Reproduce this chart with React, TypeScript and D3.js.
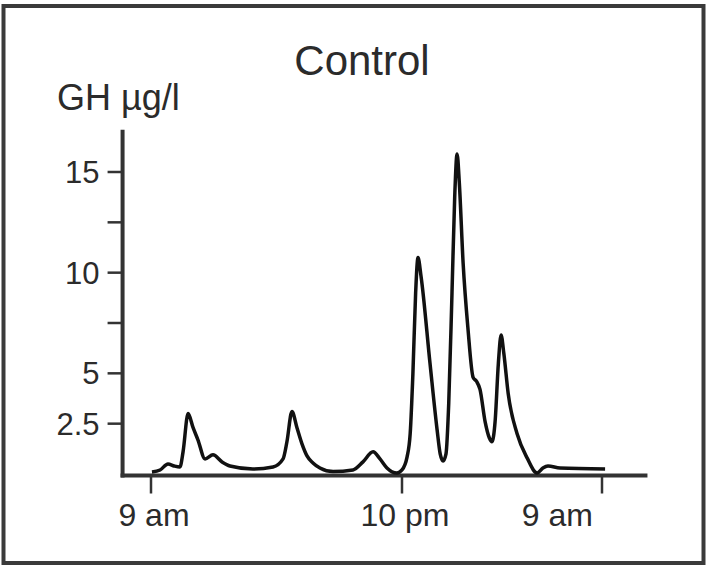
import React from "react";
import * as d3 from "d3";

// Time in hours since midnight of day 1 (9 am = 9, 10 pm = 22, next 9 am = 33)
const hours = [
  9.05, 9.47, 9.88, 10.2, 10.5, 10.66, 10.92, 11.18, 11.43, 11.8, 12.21, 12.68, 13.09,
  14.28, 15.32, 15.84, 16.04, 16.3, 16.56, 16.82, 17.08, 17.39, 17.75, 18.43, 19.46,
  19.98, 20.5, 20.86, 21.22, 21.74, 22.0, 22.28, 22.45, 22.6, 22.75, 22.88, 23.05,
  23.54, 23.93, 24.1, 24.26, 24.42, 24.57, 24.75, 24.9, 25.03, 25.15, 25.36, 25.63,
  25.91, 26.1, 26.29, 26.57, 26.8, 26.95, 27.12, 27.3, 27.45, 27.6, 27.84, 28.33,
  28.88, 29.43, 29.75, 30.03, 30.69, 33.17,
];
const ghValues = [
  0.1, 0.2, 0.5, 0.4, 0.35, 1.1, 3.0, 2.3, 1.7, 0.75, 0.95, 0.6, 0.4,
  0.25, 0.35, 0.75, 1.6, 3.1, 2.3, 1.5, 0.9, 0.55, 0.3, 0.12, 0.2,
  0.6, 1.1, 0.75, 0.3, 0.05, 0.2, 0.85, 2.0, 5.0, 9.0, 10.75, 9.8,
  5.5, 2.2, 1.0, 0.65, 1.0, 3.5, 9.0, 13.8, 15.9, 14.5, 10.5, 7.2,
  4.8, 4.6, 4.2, 2.6, 1.8, 1.6, 2.6, 5.5, 6.9, 6.0, 4.0, 2.0,
  0.8, 0.05, 0.3, 0.4, 0.3, 0.25,
];

const xTickHours = [9, 22, 33];
const xTickLabels = ["9 am", "10 pm", "9 am"];
const yMajorTicks = [15, 10, 5, 2.5];
const yMajorLabels = ["15", "10", "5", "2.5"];
const yMinorTicks = [12.5, 7.5];

const title = "Control";
const yTitle = "GH µg/l";

const W = 707;
const H = 566;
const FONT = "'Liberation Sans', Arial, Helvetica, sans-serif";
const TEXT = "#2b2b2b";
const AXIS = "#333";

export default function App() {
  const x = d3.scaleLinear().domain(xTickHours).range([151, 402, 602]);
  const y = d3.scaleLinear().domain([0, 15]).range([474, 172]);

  const xAxisStart = 7.45;
  const xAxisEnd = 35.5;
  const yAxisTop = 17.1;

  const data = hours.map((h, i) => [h, ghValues[i]] as [number, number]);
  const line = d3
    .line<[number, number]>()
    .x((d) => x(d[0]))
    .y((d) => y(d[1]))
    .curve(d3.curveMonotoneX);

  const axisY = 475.5;
  const axisX = x(xAxisStart) + 1.5;

  return (
    <svg
      width={W}
      height={H}
      style={{ position: "absolute", left: 0, top: 0, background: "#fff" }}
    >
      <rect x={3.5} y={6} width={700} height={557} fill="#fff" stroke="#3a3a3a" strokeWidth={4} />
      <text x={362} y={75} textAnchor="middle" fontFamily={FONT} fontSize={42} fill={TEXT}>
        {title}
      </text>
      <text x={57} y={110} fontFamily={FONT} fontSize={36} fill={TEXT}>
        {yTitle}
      </text>

      {/* y axis */}
      <line x1={axisX} x2={axisX} y1={y(yAxisTop)} y2={axisY + 2} stroke={AXIS} strokeWidth={4} />
      {yMajorTicks.map((t, i) => (
        <g key={"ym" + i}>
          <line x1={axisX - 15} x2={axisX} y1={y(t)} y2={y(t)} stroke={AXIS} strokeWidth={2.5} />
          <text
            x={axisX - 23}
            y={y(t) + 11}
            textAnchor="end"
            fontFamily={FONT}
            fontSize={31}
            fill={TEXT}
          >
            {yMajorLabels[i]}
          </text>
        </g>
      ))}
      {yMinorTicks.map((t, i) => (
        <line key={"yn" + i} x1={axisX - 15} x2={axisX} y1={y(t)} y2={y(t)} stroke={AXIS} strokeWidth={2.5} />
      ))}

      {/* x axis */}
      <line x1={axisX - 2} x2={x(xAxisEnd)} y1={axisY} y2={axisY} stroke={AXIS} strokeWidth={4} />
      {xTickHours.map((h, i) => {
        const last = i === xTickHours.length - 1;
        return (
          <g key={"xt" + i}>
            <line x1={x(h)} x2={x(h)} y1={axisY} y2={axisY + 18} stroke={AXIS} strokeWidth={2.5} />
            <text
              x={last ? x(h) - 9 : x(h) + 3}
              y={axisY + 50}
              textAnchor={last ? "end" : "middle"}
              fontFamily={FONT}
              fontSize={32}
              fill={TEXT}
            >
              {xTickLabels[i]}
            </text>
          </g>
        );
      })}

      <path d={line(data) || ""} fill="none" stroke="#111" strokeWidth={3.5} strokeLinejoin="round" />
    </svg>
  );
}
